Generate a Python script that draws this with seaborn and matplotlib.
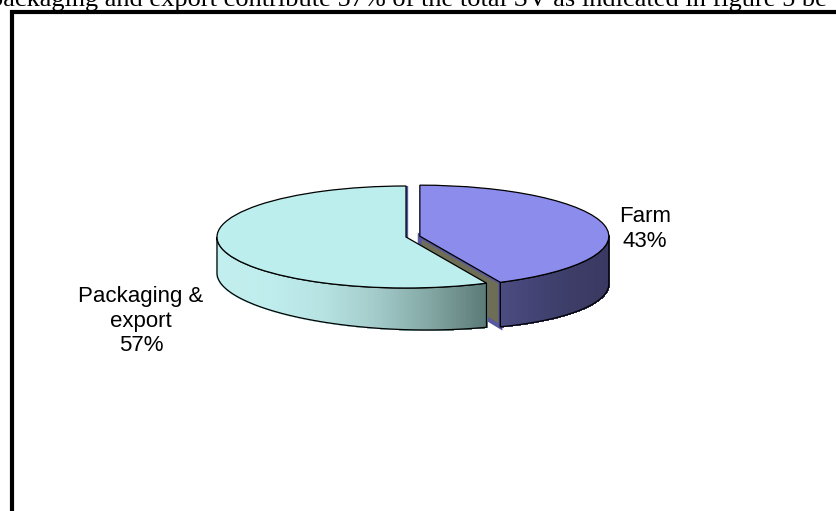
import numpy as np
import matplotlib
matplotlib.use("Agg")
import matplotlib.pyplot as plt
from matplotlib.patches import Polygon, Rectangle
from matplotlib.collections import PolyCollection
import seaborn as sns

# ---- data -------------------------------------------------------------
categories = ["Farm", "Packaging &\nexport"]
shares = [43, 57]
explode = [0.075, 0.0]

# ---- styling ----------------------------------------------------------
top_colors = ["#8c8cec", "#bdeeee"]
side_stops = [["#4c4c82", "#434374", "#3d3d68", "#393962"],
              ["#c2eeee", "#bfecec", "#b6e2e2", "#a2cac9", "#82a6a3", "#5c7b78"]]
cut_color = "#6e6d55"
cut_edge = "#5858a0"
caption = ("packaging and export contribute 57% of the total SV as "
           "indicated in figure 5 be")

W, H = 837, 511
RX, RY = 189.0, 51.0      # pixel semi-axes of the pie's top face
CX, CY = 406.0, 237.0     # pixel centre of the top face, measured from top
label_pos = [(645, 229), (141, 321)]   # pixel anchors of the slice labels

sns.set_theme(style="white")
plt.rcParams["font.family"] = ["Liberation Sans", "DejaVu Sans"]

fig = plt.figure(figsize=(W / 100, H / 100), dpi=100)
ax = fig.add_axes([0, 0, 1, 1])

wedges, _ = ax.pie(shares, startangle=90, counterclock=False, explode=explode,
                   colors=top_colors,
                   wedgeprops=dict(edgecolor="black", linewidth=0.9))
ax.set_xlim(-CX / RX, (W - CX) / RX)
ax.set_ylim(-(H - CY) / RY, CY / RY)
ax.set_aspect("auto")
ax.axis("off")


def depth(x):
    """Wall height (data units) at data-x, a bit taller toward the right."""
    px = CX + x * RX
    return (36 + 0.03 * (px - 217)) / RY


def front_intervals(t1, t2):
    """Parts of [t1, t2] (degrees) lying on the near half of the rim."""
    out = []
    for k in range(-2, 3):
        lo, hi = 180 + 360 * k, 360 + 360 * k
        a, b = max(t1, lo), min(t2, hi)
        if b - a > 1e-6:
            out.append((a, b))
    return out


for i, w in enumerate(wedges):
    cx, cy = w.center
    base_z = 1 + 2 * i
    w.set_zorder(base_z + 1.5)

    # radial cut faces that turn toward the viewer
    for t, sgn in ((w.theta1, 1), (w.theta2, -1)):
        tr = np.deg2rad(t)
        ny = -np.cos(tr) * sgn
        if ny < -1e-9:
            rx, ry = cx + np.cos(tr), cy + np.sin(tr)
            pts = [(cx, cy), (rx, ry), (rx, ry - depth(rx)), (cx, cy - depth(cx))]
            ax.add_patch(Polygon(pts, closed=True, facecolor=cut_color,
                                 edgecolor=cut_edge, linewidth=3.0,
                                 zorder=base_z - 0.5))

    # outer curved wall, shaded from left to right by horizontal position
    cmap = sns.blend_palette(side_stops[i], n_colors=256, as_cmap=True)
    for a0, a1 in front_intervals(w.theta1, w.theta2):
        th = np.deg2rad(np.linspace(a0, a1, 240))
        xs = cx + np.cos(th)
        ys = cy + np.sin(th)
        bs = ys - np.array([depth(x) for x in xs])
        order = np.argsort(xs)
        xs, ys, bs = xs[order], ys[order], bs[order]
        mids = 0.5 * (xs[:-1] + xs[1:])
        frac = (mids - xs.min()) / (xs.max() - xs.min())
        cols = cmap(frac)
        quads = [[(xs[k], ys[k]), (xs[k + 1], ys[k + 1]),
                  (xs[k + 1], bs[k + 1]), (xs[k], bs[k])]
                 for k in range(len(xs) - 1)]
        ax.add_collection(PolyCollection(quads, facecolors=cols,
                                         edgecolors=cols, linewidths=0.8,
                                         antialiased=False, zorder=base_z))
        outline = list(zip(xs, ys)) + list(zip(xs[::-1], bs[::-1]))
        ax.add_patch(Polygon(outline, closed=True, fill=False,
                             edgecolor="black", linewidth=0.9,
                             zorder=base_z + 0.2))

# slice labels
for (px, py), cat, val in zip(label_pos, categories, shares):
    ax.text((px - CX) / RX, (CY - py) / RY, f"{cat}\n{val}%",
            ha="center", va="center", fontsize=16, linespacing=1.2,
            color="black", zorder=10)

# running text above the frame and the frame itself
fig.text(-10 / W, 1 - 6 / H, caption, fontsize=19, ha="left", va="baseline",
         family=["Liberation Serif", "DejaVu Serif"], color="black")
fig.add_artist(Rectangle((12 / W, -0.2), 2.0, 0.2 + (H - 12) / H,
                         transform=fig.transFigure, fill=False,
                         edgecolor="black", linewidth=3.0))

fig.savefig("out.png", dpi=100, facecolor="white")
